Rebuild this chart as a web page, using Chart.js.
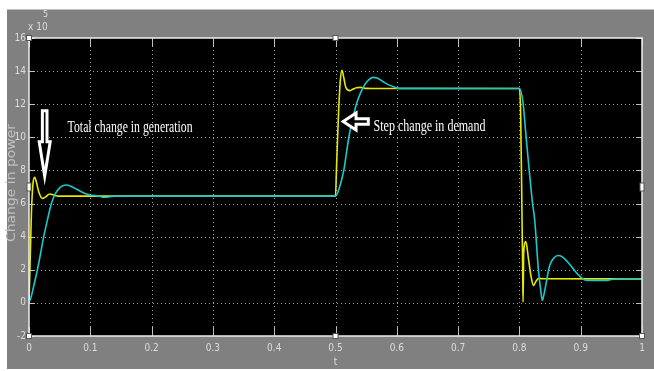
<!DOCTYPE html>
<html>
<head>
<meta charset="utf-8">
<script src="https://cdn.jsdelivr.net/npm/chart.js@4.4.1/dist/chart.umd.min.js"></script>
<style>
  html, body { margin: 0; padding: 0; background: #fff; }
  canvas { display: block; }
</style>
</head>
<body>
<canvas id="myChart" width="654" height="371"></canvas>
<script>
// axis ticks
const xTicks = [0, 0.1, 0.2, 0.3, 0.4, 0.5, 0.6, 0.7, 0.8, 0.9, 1];
const yTicks = [-2, 0, 2, 4, 6, 8, 10, 12, 14, 16];

// yellow trace (x10^5)
const yellowTime = [0, 0.0015, 0.004, 0.0065, 0.0093, 0.012, 0.016, 0.0219, 0.027, 0.0338, 0.04, 0.048,
  0.5, 0.5015, 0.505, 0.508, 0.5106, 0.513, 0.517, 0.523, 0.528, 0.534, 0.541, 0.548, 0.56,
  0.8, 0.802, 0.804, 0.8055, 0.806, 0.807, 0.8105, 0.815, 0.819, 0.823, 0.827, 0.831, 0.84, 1];
const yellowPower = [0, 2, 5.5, 7.2, 7.59, 7.3, 6.7, 6.31, 6.4, 6.58, 6.52, 6.45,
  6.45, 8, 11.5, 13.5, 14.05, 13.7, 13.0, 12.82, 12.9, 13.0, 13.02, 12.96, 12.95,
  12.95, 11.5, 6, 1.5, 0.05, 3.0, 3.7, 2.6, 1.6, 1.06, 1.3, 1.47, 1.46, 1.45];

// cyan trace (x10^5)
const cyanTime = [0, 0.003, 0.007, 0.0137, 0.019, 0.024, 0.03, 0.0365, 0.043, 0.05, 0.055, 0.061, 0.068, 0.077, 0.087, 0.095, 0.102, 0.115, 0.12, 0.13, 0.14,
  0.5, 0.504, 0.509, 0.514, 0.518, 0.522, 0.528, 0.534, 0.541, 0.548, 0.555, 0.561, 0.568, 0.576, 0.585, 0.595, 0.605,
  0.8, 0.803, 0.806, 0.811, 0.816, 0.8215, 0.825, 0.831, 0.835, 0.8375, 0.84, 0.8495, 0.856, 0.863, 0.87, 0.878, 0.887, 0.896, 0.906, 0.912, 0.944, 0.95, 0.975, 1];
const cyanPower = [0.05, 0.3, 0.9, 2.0, 3.0, 4.0, 5.0, 6.0, 6.6, 6.95, 7.08, 7.12, 7.05, 6.88, 6.68, 6.56, 6.5, 6.45, 6.38, 6.4, 6.45,
  6.45, 6.7, 7.3, 8.1, 9.1, 10.05, 11.1, 12.0, 12.7, 13.2, 13.5, 13.62, 13.58, 13.4, 13.2, 13.05, 12.96,
  12.95, 12.7, 12.07, 10, 8.0, 6.0, 5.0, 2.0, 0.7, 0.15, 0.5, 2.27, 2.7, 2.86, 2.78, 2.5, 2.1, 1.7, 1.4, 1.36, 1.36, 1.42, 1.46, 1.45];

// annotation text
const notes = [
  { text: 'Total change in generation', t: 0.063, p: 10.58, width: 125 },
  { text: 'Step change in demand', t: 0.562, p: 10.64, width: 112 }
];

const tickFont = { family: "'DejaVu Sans Condensed', 'Liberation Sans Narrow', sans-serif", size: 10 };

function points(ts, ps) {
  return ts.map((t, i) => ({ x: t, y: ps[i] }));
}

const scopePlugin = {
  id: 'scope',
  beforeDraw(chart) {
    const c = chart.ctx, a = chart.chartArea;
    c.save();
    c.fillStyle = '#ffffff';
    c.fillRect(0, 0, chart.width, chart.height);
    c.fillStyle = '#808080';
    c.fillRect(7, 9.5, chart.width - 7, 359.5);
    c.fillStyle = '#000000';
    c.fillRect(a.left, a.top, a.right - a.left, a.bottom - a.top);
    c.restore();
  },
  beforeDatasetsDraw(chart) {
    const c = chart.ctx, a = chart.chartArea;
    const xs = chart.scales.x, ys = chart.scales.y;
    c.save();
    c.lineWidth = 1;
    c.strokeStyle = '#a0a0a0';
    c.setLineDash([1, 3]);
    xTicks.slice(1, -1).forEach(v => {
      const x = Math.round(xs.getPixelForValue(v)) + 0.5;
      c.beginPath(); c.moveTo(x, a.top); c.lineTo(x, a.bottom); c.stroke();
    });
    yTicks.slice(1, -1).forEach(v => {
      const y = Math.round(ys.getPixelForValue(v)) + 0.5;
      c.beginPath(); c.moveTo(a.left, y); c.lineTo(a.right, y); c.stroke();
    });
    // inward tick marks
    c.setLineDash([]);
    c.strokeStyle = '#c0c0c0';
    xTicks.forEach(v => {
      const x = Math.round(xs.getPixelForValue(v)) + 0.5;
      c.beginPath(); c.moveTo(x, a.bottom); c.lineTo(x, a.bottom - 9); c.stroke();
      c.beginPath(); c.moveTo(x, a.top); c.lineTo(x, a.top + 9); c.stroke();
    });
    yTicks.forEach(v => {
      const y = Math.round(ys.getPixelForValue(v)) + 0.5;
      c.beginPath(); c.moveTo(a.left, y); c.lineTo(a.left + 6, y); c.stroke();
      c.beginPath(); c.moveTo(a.right, y); c.lineTo(a.right - 6, y); c.stroke();
    });
    c.restore();
  },
  afterDatasetsDraw(chart) {
    const c = chart.ctx, a = chart.chartArea;
    const xs = chart.scales.x, ys = chart.scales.y;
    c.save();
    // box
    c.strokeStyle = '#eeeeee';
    c.lineWidth = 1.5;
    c.strokeRect(a.left, a.top, a.right - a.left, a.bottom - a.top);

    // small handles on the frame
    const mx = xs.getPixelForValue(0.5), my = (a.top + a.bottom) / 2;
    c.fillStyle = '#ffffff';
    c.strokeStyle = '#555555';
    c.lineWidth = 1;
    [[a.left, a.top], [mx, a.top], [a.left, a.bottom], [mx, a.bottom], [a.right, a.bottom]].forEach(p => {
      c.fillRect(p[0] - 2.5, p[1] - 2.5, 5, 5);
      c.strokeRect(p[0] - 2.5, p[1] - 2.5, 5, 5);
    });
    [[a.left, my], [a.right, my]].forEach(p => {
      c.fillRect(p[0] - 2, p[1] - 4, 4, 8);
      c.strokeRect(p[0] - 2, p[1] - 4, 4, 8);
    });

    // down arrow
    const cx = xs.getPixelForValue(0.0256);
    const top = ys.getPixelForValue(11.6), head = ys.getPixelForValue(9.73), tip = ys.getPixelForValue(7.65);
    c.beginPath();
    c.moveTo(cx - 2.3, top); c.lineTo(cx + 2.3, top); c.lineTo(cx + 2.3, head);
    c.lineTo(cx + 5.5, head); c.lineTo(cx, tip); c.lineTo(cx - 5.5, head);
    c.lineTo(cx - 2.3, head); c.closePath();
    c.fillStyle = '#000000'; c.fill();
    c.strokeStyle = '#ffffff'; c.lineWidth = 3; c.lineJoin = 'miter'; c.stroke();

    // left arrow
    const tx = xs.getPixelForValue(0.5125), ty = ys.getPixelForValue(10.96);
    const hx = xs.getPixelForValue(0.5335), tail = xs.getPixelForValue(0.5535);
    c.beginPath();
    c.moveTo(tx, ty); c.lineTo(hx, ty - 8.5); c.lineTo(hx, ty - 2.8);
    c.lineTo(tail, ty - 2.8); c.lineTo(tail, ty + 2.8); c.lineTo(hx, ty + 2.8);
    c.lineTo(hx, ty + 8.5); c.closePath();
    c.fillStyle = '#000000'; c.fill();
    c.strokeStyle = '#ffffff'; c.lineWidth = 3; c.stroke();

    // annotation text, squeezed like the source
    c.fillStyle = '#ffffff';
    c.font = "16px 'Liberation Serif', 'Times New Roman', serif";
    c.textBaseline = 'middle';
    c.textAlign = 'left';
    notes.forEach(n => {
      const w = c.measureText(n.text).width;
      const px = xs.getPixelForValue(n.t), py = ys.getPixelForValue(n.p);
      c.save();
      c.translate(px, py);
      c.scale(n.width / w, 1);
      c.fillText(n.text, 0, 0);
      c.restore();
    });

    // exponent label
    c.fillStyle = '#dcdcdc';
    c.font = "10px 'DejaVu Sans Condensed', sans-serif";
    c.fillText('x 10', a.left - 1, 27);
    c.font = "9px 'DejaVu Sans Condensed', sans-serif";
    c.fillText('5', a.left + 14, 15);

    // axis titles
    c.font = "10px 'DejaVu Sans Condensed', sans-serif";
    c.textAlign = 'center';
    c.fillText('t', mx, 362);
    c.save();
    c.translate(12, 183);
    c.rotate(-Math.PI / 2);
    c.fillStyle = '#c0c0c0';
    c.font = "12px 'DejaVu Sans', sans-serif";
    const tw = c.measureText('Change in power').width;
    c.scale(118 / tw, 1);
    c.fillText('Change in power', 0, 0);
    c.restore();
    c.restore();
  }
};

new Chart(document.getElementById('myChart'), {
  type: 'line',
  data: {
    datasets: [
      {
        label: 'cyan',
        data: points(cyanTime, cyanPower),
        borderColor: '#1cc8c8',
        borderWidth: 1.6,
        pointRadius: 0,
        cubicInterpolationMode: 'monotone',
        order: 0
      },
      {
        label: 'yellow',
        data: points(yellowTime, yellowPower),
        borderColor: '#e8e800',
        borderWidth: 1.6,
        pointRadius: 0,
        cubicInterpolationMode: 'monotone',
        order: 1
      }
    ]
  },
  options: {
    responsive: false,
    animation: false,
    devicePixelRatio: 1,
    layout: { padding: { top: 38, right: 12, left: 0, bottom: 0 } },
    plugins: { legend: { display: false }, tooltip: { enabled: false } },
    scales: {
      x: {
        type: 'linear', min: 0, max: 1,
        afterBuildTicks: s => { s.ticks = xTicks.map(v => ({ value: v })); },
        afterFit: s => { s.height = 35; },
        grid: { display: false, drawTicks: false },
        border: { display: false },
        ticks: { color: '#dcdcdc', font: tickFont, padding: 6, maxRotation: 0, autoSkip: false, callback: v => String(v) }
      },
      y: {
        type: 'linear', min: -2, max: 16,
        afterBuildTicks: s => { s.ticks = yTicks.map(v => ({ value: v })); },
        afterFit: s => { s.width = 29; },
        grid: { display: false, drawTicks: false },
        border: { display: false },
        ticks: { color: '#dcdcdc', font: tickFont, padding: 3, autoSkip: false, callback: v => String(v) }
      }
    }
  },
  plugins: [scopePlugin]
});
</script>
</body>
</html>
